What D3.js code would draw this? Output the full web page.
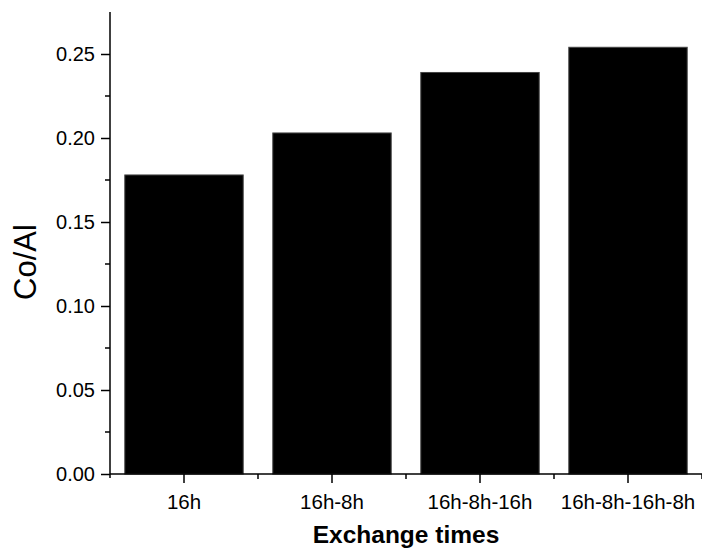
<!DOCTYPE html>
<html>
<head>
<meta charset="utf-8">
<script src="https://cdn.jsdelivr.net/npm/d3@7"></script>
<style>
  html, body { margin: 0; padding: 0; background: #fff; }
  svg { display: block; font-family: "Liberation Sans", Arial, Helvetica, sans-serif; }
</style>
</head>
<body>
<svg id="chart" width="702" height="554"></svg>
<script>
// Co/Al ratio after successive ion-exchange steps
const categories = ["16h", "16h-8h", "16h-8h-16h", "16h-8h-16h-8h"];
const coAlRatio = [0.178, 0.203, 0.239, 0.254];
const yTicks = [0.00, 0.05, 0.10, 0.15, 0.20, 0.25];
const yMinorTicks = [0.025, 0.075, 0.125, 0.175, 0.225];

const svg = d3.select("#chart");
const plotLeft = 110, plotRight = 702, plotTop = 12, plotBottom = 474;

const x = d3.scaleBand().domain(categories).range([plotLeft, plotRight]).paddingInner(0.2).paddingOuter(0.1);
const y = d3.scaleLinear().domain([0, 0.275]).range([plotBottom, plotTop]);

// bars
svg.append("g").selectAll("rect")
  .data(categories)
  .join("rect")
  .attr("x", d => x(d))
  .attr("width", x.bandwidth())
  .attr("y", (d, i) => y(coAlRatio[i]))
  .attr("height", (d, i) => plotBottom - y(coAlRatio[i]))
  .attr("fill", "#000")
  .attr("stroke", "#444")
  .attr("stroke-width", 1);

// y axis: major and minor ticks
const yAxis = svg.append("g").attr("transform", `translate(${plotLeft},0)`);
yAxis.call(d3.axisLeft(y).tickValues(yTicks).tickFormat(d3.format(".2f")).tickSize(9).tickPadding(6))
  .call(g => g.select(".domain").remove());
yAxis.selectAll(".tick line").attr("stroke-width", 1.5);
yAxis.selectAll(".tick text").attr("font-size", 20).attr("fill", "#000")
  .attr("font-family", "'Liberation Sans', Arial, sans-serif");
yAxis.selectAll("line.minor").data(yMinorTicks).join("line").attr("class", "minor")
  .attr("x1", -5).attr("x2", 0).attr("y1", d => y(d)).attr("y2", d => y(d))
  .attr("stroke", "#000").attr("stroke-width", 1.5);
yAxis.append("line").attr("x1", 0).attr("x2", 0).attr("y1", plotTop).attr("y2", plotBottom + 4)
  .attr("stroke", "#000").attr("stroke-width", 1.5);

// x axis: category ticks plus minor ticks at band edges
const step = x.step();
const xAxis = svg.append("g").attr("transform", `translate(0,${plotBottom})`);
xAxis.call(d3.axisBottom(x).tickSize(9).tickPadding(11))
  .call(g => g.select(".domain").remove());
xAxis.selectAll(".tick line").attr("stroke-width", 1.5);
xAxis.selectAll(".tick text").attr("font-size", 20.5).attr("fill", "#000")
  .attr("font-family", "'Liberation Sans', Arial, sans-serif");
const edges = categories.map(c => x(c) + x.bandwidth() / 2 + step / 2);
xAxis.selectAll("line.minor").data(edges).join("line").attr("class", "minor")
  .attr("x1", d => d).attr("x2", d => d).attr("y1", 0).attr("y2", 5)
  .attr("stroke", "#000").attr("stroke-width", 1.5);
xAxis.append("line").attr("x1", plotLeft).attr("x2", plotRight).attr("y1", 0).attr("y2", 0)
  .attr("stroke", "#000").attr("stroke-width", 1.5);

// axis titles
svg.append("text")
  .attr("transform", `translate(36,262) rotate(-90)`)
  .attr("text-anchor", "middle")
  .attr("font-size", 31)
  .text("Co/Al");

svg.append("text")
  .attr("x", 406).attr("y", 543)
  .attr("text-anchor", "middle")
  .attr("font-size", 24.5)
  .attr("font-weight", "bold")
  .text("Exchange times");
</script>
</body>
</html>
